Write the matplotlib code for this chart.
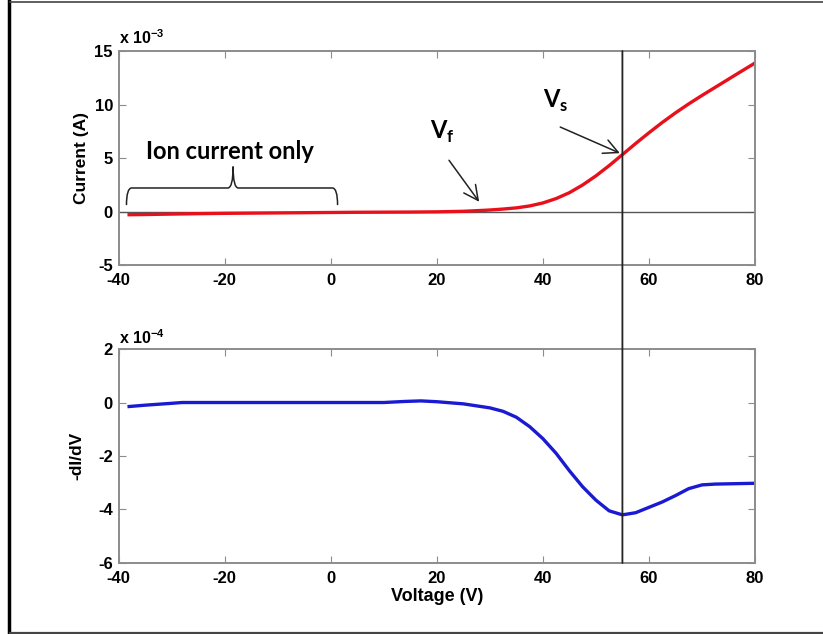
import numpy as np
import matplotlib.pyplot as plt
from matplotlib.lines import Line2D
from matplotlib.patches import ConnectionPatch, PathPatch
from matplotlib.path import Path

plt.rcParams['font.family'] = ['Liberation Sans', 'DejaVu Sans']
plt.rcParams['font.weight'] = 'bold'
plt.rcParams['axes.unicode_minus'] = False
plt.rcParams['mathtext.fontset'] = 'custom'
plt.rcParams['mathtext.bf'] = 'Lato:bold'
plt.rcParams['mathtext.rm'] = 'Liberation Sans:bold'

# probe sweep: current in units of 1e-3 A
voltage = [-38, -35, -30, -25, -20, -15, -10, -5, 0, 5, 10, 15, 20, 25, 28, 30,
           32.5, 35, 37.5, 40, 42.5, 45, 47.5, 50, 52.5, 55, 57.5, 60, 62.5,
           65, 67.5, 70, 72.5, 75, 77.5, 80]
current_e3 = [-0.30, -0.28, -0.24, -0.20, -0.17, -0.15, -0.13, -0.11, -0.09,
              -0.07, -0.06, -0.05, -0.03, 0.02, 0.09, 0.14, 0.23, 0.34, 0.52,
              0.80, 1.21, 1.76, 2.48, 3.33, 4.29, 5.32, 6.36, 7.36, 8.32,
              9.22, 10.06, 10.85, 11.61, 12.37, 13.13, 13.88]

# -dI/dV in units of 1e-4 A/V
volt_d = [-38, -35, -30, -28, -20, -10, 0, 10, 14, 17, 20, 25, 30, 32.5, 35,
          37.5, 40, 42.5, 45, 47.5, 50, 52.5, 55, 57.5, 60, 62.5, 65, 67.5,
          70, 72.5, 75, 80]
didv_e4 = [-0.15, -0.10, -0.03, 0.0, 0.0, 0.0, 0.0, 0.0, 0.04, 0.06, 0.03,
           -0.05, -0.20, -0.33, -0.55, -0.90, -1.35, -1.90, -2.55, -3.15,
           -3.65, -4.05, -4.20, -4.12, -3.92, -3.72, -3.48, -3.22, -3.08,
           -3.05, -3.04, -3.02]

v_plasma = 55
xticks = [-40, -20, 0, 20, 40, 60, 80]

fig = plt.figure(figsize=(8.23, 6.34), dpi=100)
ax1 = fig.add_axes([0.144, 0.582, 0.7734, 0.3375])
ax2 = fig.add_axes([0.144, 0.112, 0.7734, 0.3375])

for ax in (ax1, ax2):
    ax.set_xlim(-40, 80)
    ax.set_xticks(xticks)
    for s in ax.spines.values():
        s.set_color('#8c8c8c')
        s.set_linewidth(1.4)
    ax.tick_params(direction='in', top=True, right=True, length=5,
                   color='#8c8c8c', labelsize=12)
    ax.tick_params(axis='x', pad=6)
    ax.tick_params(axis='y', pad=4)

ax1.axhline(0, color='#555555', lw=1.0)
ax1.plot(voltage, current_e3, color='#e8101a', lw=2.4)
ax1.set_ylim(-5, 15)
ax1.set_yticks([-5, 0, 5, 10, 15])
ax1.set_ylabel('Current (A)', fontsize=12.5, fontweight='bold', labelpad=4)
ax1.text(-40, 15.4, r'x 10$^{-3}$', fontsize=11.5, fontweight='bold',
         ha='left', va='bottom')

ax2.plot(volt_d, didv_e4, color='#1a1ad2', lw=2.4)
ax2.set_ylim(-6, 2)
ax2.set_yticks([-6, -4, -2, 0, 2])
ax2.set_ylabel('-dI/dV', fontsize=12.5, fontweight='bold', labelpad=10)
ax2.set_xlabel('Voltage (V)', fontsize=13, fontweight='bold', labelpad=1)
ax2.text(-40, 2.08, r'x 10$^{-4}$', fontsize=11.5, fontweight='bold',
         ha='left', va='bottom')

# plasma potential marker through both panels
con = ConnectionPatch(xyA=(v_plasma, 15), coordsA=ax1.transData,
                      xyB=(v_plasma, -6), coordsB=ax2.transData,
                      color='#222222', lw=1.3)
fig.add_artist(con)

# annotations
ax1.annotate('', xy=(28.3, 0.7), xytext=(22.0, 5.0),
             arrowprops=dict(arrowstyle='->', color='#222222', lw=1.1,
                             mutation_scale=26))
ax1.annotate('', xy=(55, 5.35), xytext=(42.8, 8.0),
             arrowprops=dict(arrowstyle='->', color='#222222', lw=1.1,
                             mutation_scale=26))
ax1.text(21.0, 7.4, r'$\mathbf{V}_\mathbf{f}$', fontsize=17, ha='center',
         va='center')
ax1.text(42.5, 10.3, r'$\mathbf{V}_\mathbf{s}$', fontsize=17, ha='center',
         va='center')
ax1.text(-19, 5.6, 'Ion current only', family='Lato', fontsize=17,
         fontweight='bold', ha='center', va='center')

# curly brace over the ion-saturation region
x0, x1, xm = -38.5, 1.3, -18.4
yb, yh, yt = 0.6, 2.2, 4.2
r = 1.0
verts = [(x0, yb), (x0, yh), (x0 + r, yh),
         (xm - r, yh), (xm, yh), (xm, yt),
         (xm, yh), (xm + r, yh),
         (x1 - r, yh), (x1, yh), (x1, yb)]
codes = [Path.MOVETO, Path.CURVE3, Path.CURVE3,
         Path.LINETO, Path.CURVE3, Path.CURVE3,
         Path.CURVE3, Path.CURVE3,
         Path.LINETO, Path.CURVE3, Path.CURVE3]
ax1.add_patch(PathPatch(Path(verts, codes), fill=False, color='#222222',
                        lw=1.1))

# page frame
fig.add_artist(Line2D([0.0115, 0.0115], [0, 1], color='black', lw=2.5))
fig.add_artist(Line2D([0.012, 1], [0.997, 0.997], color='#444444', lw=1.2))
fig.add_artist(Line2D([0.012, 1], [0.002, 0.002], color='#444444', lw=1.6))

fig.savefig('out.png', dpi=100, facecolor='white')
